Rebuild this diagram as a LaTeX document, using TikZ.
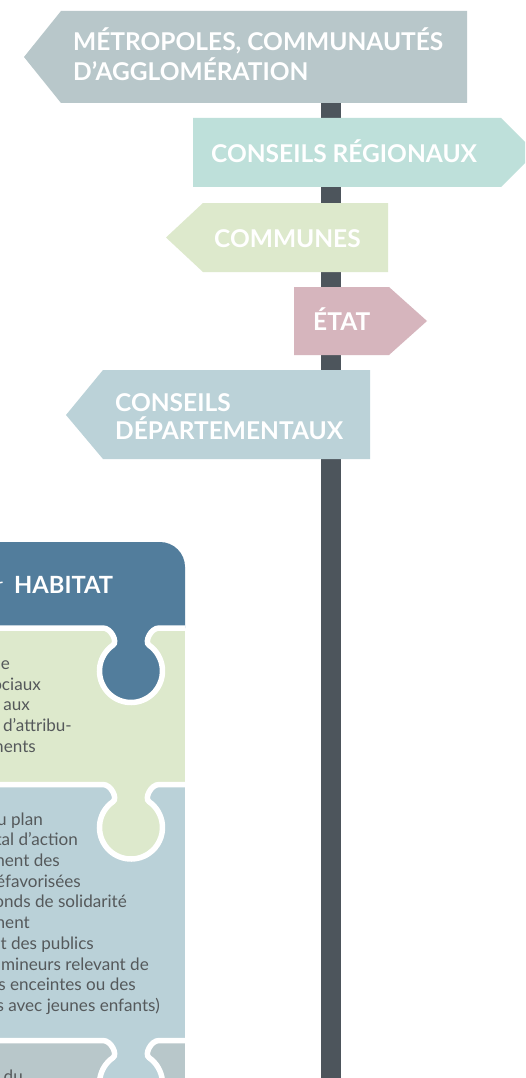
\documentclass[tikz,border=0pt]{standalone}
\usepackage{fontspec}
\setmainfont{Lato}
\definecolor{metroc}{HTML}{B8C7CA}
\definecolor{regc}{HTML}{BEE0DA}
\definecolor{commc}{HTML}{DDE9CC}
\definecolor{etatc}{HTML}{D6B5BD}
\definecolor{depc}{HTML}{BBD2D8}
\definecolor{postc}{HTML}{4D555C}
\definecolor{hdrc}{HTML}{527D9C}
\definecolor{lbluec}{HTML}{BAD1D8}
\definecolor{txtc}{HTML}{55595B}
\tikzset{
  signtxt/.style={anchor=base west, inner sep=0pt, text=white, font=\fontsize{24.5}{30}\selectfont\bfseries},
  hdrtxt/.style={anchor=base west, inner sep=0pt, text=white, font=\fontsize{23.7}{28}\selectfont\bfseries},
  bodytxt/.style={anchor=base east, inner sep=0pt, text=txtc, font=\fontsize{17.1}{21}\selectfont},
  seam/.style={draw=white, line width=5.5pt},
}
% puzzle knob boundary at height #1 (y downward)
\newcommand\knobpath[1]{(103,#1) .. controls (111,#1) and (117.9,#1+13.72) .. (113,#1+17.15) arc[start angle=124.85, end angle=415.15, radius=31.5pt] .. controls (144.1,#1+13.72) and (151,#1) .. (159,#1)}
\begin{document}
\begin{tikzpicture}[x=1pt, y=-1pt]
\useasboundingbox (0,0) rectangle (525,1078);
\clip (0,0) rectangle (525,1078);
\fill[white] (0,0) rectangle (525,1078);
% post
\fill[postc] (321,100) rectangle (341,1080);
% signs
\fill[metroc] (24,57) -- (61,11) -- (467,11) -- (467,103) -- (61,103) -- cycle;
\fill[regc] (193,118) -- (501,118) -- (535.5,152.5) -- (501,187) -- (193,187) -- cycle;
\fill[commc] (166,237.5) -- (203,203) -- (388,203) -- (388,272) -- (203,272) -- cycle;
\fill[etatc] (294,287) -- (389,287) -- (427,321) -- (389,355) -- (294,355) -- cycle;
\fill[depc] (66,415) -- (103,370) -- (370,370) -- (370,459) -- (103,459) -- cycle;
\node[signtxt] (t1a) at (73,51) {MÉTROPOLES, COMMUNAUTÉS};
\node[signtxt] (t1b) at (73,81) {D’AGGLOMÉRATION};
\node[signtxt] (t2) at (211,163) {CONSEILS RÉGIONAUX};
\node[signtxt] (t3) at (214,247) {COMMUNES};
\node[signtxt] (t4) at (313,330) {ÉTAT};
\node[signtxt] (t5a) at (115,411) {CONSEILS};
\node[signtxt] (t5b) at (115,439) {DÉPARTEMENTAUX};
% puzzle panel
\fill[hdrc] (-10,628) -- (-10,542) -- (160,542) arc[start angle=90, end angle=0, radius=25pt] -- (185,628) -- cycle;
\fill[commc] (-10,628) rectangle (185,784.5);
\fill[lbluec] (-10,784.5) rectangle (185,1040.5);
\fill[metroc] (-10,1040.5) rectangle (185,1090);
\fill[hdrc] \knobpath{628} -- cycle;
\fill[commc] \knobpath{784.5} -- cycle;
\fill[lbluec] \knobpath{1040.5} -- cycle;
\draw[seam] (-10,628) -- \knobpath{628} -- (185,628);
\draw[seam] (-10,784.5) -- \knobpath{784.5} -- (185,784.5);
\draw[seam] (-10,1040.5) -- \knobpath{1040.5} -- (185,1040.5);
\draw[white, line width=1.5pt] (-4,583.5) -- (2.5,582.2);
\node[hdrtxt] (hab) at (14,593) {HABITAT};
% green panel text
\node[bodytxt] (g1) at (10,669) {e};
\node[bodytxt] (g2) at (41,690) {ociaux};
\node[bodytxt] (g3) at (30,710.5) {aux};
\node[bodytxt] (g4) at (72,731) {d’attribu-};
\node[bodytxt] (g5) at (36,752) {ments};
% light blue panel text
\node[bodytxt] (b1) at (43,825) {u plan};
\node[bodytxt] (b2) at (78,845.7) {tal d’action};
\node[bodytxt] (b3) at (60,866.4) {ment des};
\node[bodytxt] (b4) at (81,887) {éfavorisées};
\node[bodytxt] (b5) at (127,907.8) {onds de solidarité};
\node[bodytxt] (b6) at (30,928.5) {ment};
\node[bodytxt] (b7) at (94,949) {nt des publics};
\node[bodytxt] (b8) at (149,970) {mineurs relevant de};
\node[bodytxt] (b9) at (136,990.7) {s enceintes ou des};
\node[bodytxt] (b10) at (160,1011.4) {s avec jeunes enfants)};
\node[bodytxt] (c1) at (23,1082) {r du};
\end{tikzpicture}
\end{document}
